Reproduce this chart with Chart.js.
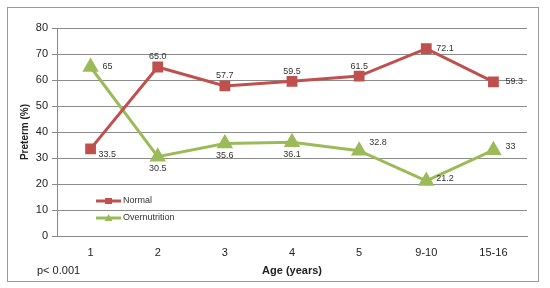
<!DOCTYPE html>
<html><head><meta charset="utf-8">
<script src="https://cdn.jsdelivr.net/npm/chart.js@4"></script>
<style>html,body{margin:0;padding:0;background:#fff;}#wrap{width:550px;height:288px;}</style>
</head><body><div id="wrap"><canvas id="c" width="550" height="288"></canvas></div>
<script>
const categories = ["1","2","3","4","5","9-10","15-16"];
const normalValues = [33.5,65.0,57.7,59.5,61.5,72.1,59.3];
const normalLabels = ["33.5","65.0","57.7","59.5","61.5","72.1","59.3"];
const overValues = [65,30.5,35.6,36.1,32.8,21.2,33];
const overLabels = ["65","30.5","35.6","36.1","32.8","21.2","33"];
const yTicks = [0,10,20,30,40,50,60,70,80];
const seriesNames = ["Normal","Overnutrition"];
const noteText = "p< 0.001";

const RED = "#C0504D", GREEN = "#9BBB59";
const FONT = "'Liberation Sans', Arial, sans-serif";

// label placement per point: [dx, dy, align]
const normalPos = [[8,6,'left'],[0,-10,'center'],[0,-10,'center'],[0,-10,'center'],[0,-10,'center'],[10,0,'left'],[12,0,'left']];
const overPos = [[12,0,'left'],[0,12,'center'],[0,12,'center'],[0,12,'center'],[10,-8,'left'],[10,-2,'left'],[12,-4,'left']];

const extras = {
  id:'extras',
  beforeDraw(chart){
    const ctx = chart.ctx;
    ctx.save();
    ctx.fillStyle='#fff'; ctx.fillRect(0,0,chart.width,chart.height);
    ctx.strokeStyle='#9a9a9a'; ctx.lineWidth=1;
    ctx.strokeRect(7.5,7.5,531,274);
    ctx.restore();
  },
  afterDatasetsDraw(chart){
    const ctx = chart.ctx;
    ctx.save();
    ctx.font = "9px "+FONT;
    ctx.fillStyle = '#333';
    ctx.textBaseline='middle';
    [[0,normalLabels,normalPos],[1,overLabels,overPos]].forEach(([di,labs,pos])=>{
      const meta = chart.getDatasetMeta(di);
      meta.data.forEach((pt,i)=>{
        ctx.textAlign = pos[i][2];
        ctx.fillText(labs[i], pt.x+pos[i][0], pt.y+pos[i][1]);
      });
    });
    // legend
    const ca = chart.chartArea;
    const items = [[seriesNames[0],RED,'rect'],[seriesNames[1],GREEN,'triangle']];
    ctx.font = "9px "+FONT;
    ctx.textAlign='left';
    items.forEach((it,k)=>{
      const y = ca.top + 173 + k*17;
      const x0 = ca.left + 39;
      ctx.strokeStyle = it[1]; ctx.lineWidth=3;
      ctx.beginPath(); ctx.moveTo(x0,y); ctx.lineTo(x0+25,y); ctx.stroke();
      ctx.fillStyle = it[1];
      if(it[2]==='rect'){ ctx.fillRect(x0+9,y-3,7,6); }
      else { ctx.beginPath(); ctx.moveTo(x0+12.5,y-4); ctx.lineTo(x0+16.5,y+3); ctx.lineTo(x0+8.5,y+3); ctx.closePath(); ctx.fill(); }
      ctx.fillStyle='#333';
      ctx.fillText(it[0], x0+27, y);
    });
    // note
    ctx.font = "11px "+FONT;
    ctx.fillStyle='#222';
    ctx.fillText(noteText, 37, 271);
    ctx.restore();
  }
};

new Chart(document.getElementById('c'), {
  type:'line',
  data:{
    labels: categories,
    datasets:[
      {label:seriesNames[0], data:normalValues, borderColor:RED, backgroundColor:RED, borderWidth:3,
       pointStyle:'rect', pointRadius:5.5, pointHoverRadius:5.5, tension:0},
      {label:seriesNames[1], data:overValues, borderColor:GREEN, backgroundColor:GREEN, borderWidth:3,
       pointStyle:'triangle', pointRadius:6.5, pointHoverRadius:6.5, tension:0}
    ]
  },
  options:{
    responsive:false, animation:false, devicePixelRatio:1,
    layout:{padding:{left:19,right:23,top:28,bottom:10}},
    plugins:{legend:{display:false}, tooltip:{enabled:false}},
    scales:{
      x:{
        offset:true,
        grid:{display:false, drawTicks:false, offset:true},
        border:{color:'#888', width:1},
        ticks:{font:{family:FONT,size:11}, color:'#222', padding:10},
        title:{display:true, text:'Age (years)', font:{family:FONT,size:11,weight:'bold'}, color:'#222', padding:{top:4,bottom:0}},
        afterFit(s){ s.height = 42; }
      },
      y:{
        min:0, max:80,
        afterBuildTicks(s){ s.ticks = yTicks.map(v=>({value:v})); },
        grid:{color:'#8c8c8c', lineWidth:1, drawTicks:true, tickLength:5},
        border:{display:true, color:'#888'},
        ticks:{font:{family:FONT,size:11}, color:'#222', padding:4},
        title:{display:true, text:'Preterm (%)', font:{family:FONT,size:10,weight:'bold'}, color:'#222', padding:{top:0,bottom:4}},
        afterFit(s){ s.width = 38; }
      }
    }
  },
  plugins:[extras]
});
</script></body></html>
